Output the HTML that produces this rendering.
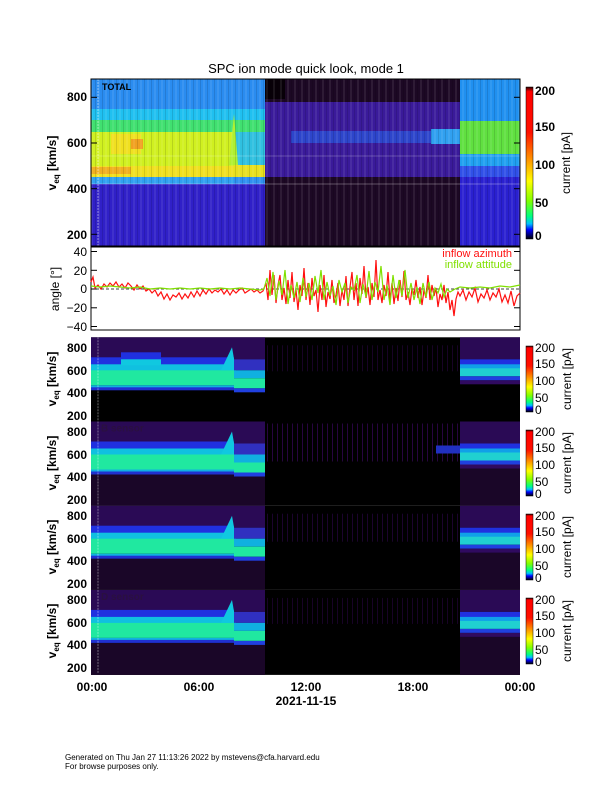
<!DOCTYPE html>
<html><head><meta charset="utf-8"><style>
html,body{margin:0;padding:0;background:#fff;}
svg{display:block;font-family:"Liberation Sans",sans-serif;}
</style></head><body>
<svg width="612" height="792" viewBox="0 0 612 792" xmlns="http://www.w3.org/2000/svg">
<defs>
<linearGradient id="cb" x1="0" y1="0" x2="0" y2="1">
<stop offset="0" stop-color="#200000"/><stop offset="0.03" stop-color="#ff0000"/>
<stop offset="0.3" stop-color="#ff1000"/><stop offset="0.45" stop-color="#ff8000"/>
<stop offset="0.62" stop-color="#ffff00"/><stop offset="0.75" stop-color="#80ff00"/>
<stop offset="0.85" stop-color="#00ff80"/><stop offset="0.9" stop-color="#00c0ff"/>
<stop offset="0.94" stop-color="#0000ff"/><stop offset="0.97" stop-color="#000080"/>
<stop offset="1" stop-color="#000"/></linearGradient>
<pattern id="st" width="7" height="10" patternUnits="userSpaceOnUse">
<rect x="0" y="0" width="2" height="10" fill="#fff" opacity="0.08"/>
<rect x="4" y="0" width="1" height="10" fill="#000" opacity="0.12"/></pattern>
<pattern id="st2" width="5" height="10" patternUnits="userSpaceOnUse">
<rect x="1" y="0" width="1" height="10" fill="#500a80" opacity="0.5"/>
<rect x="3" y="0" width="1" height="10" fill="#000" opacity="0.5"/></pattern>
</defs>

<text x="306" y="73" font-size="13" text-anchor="middle">SPC ion mode quick look, mode 1</text>

<!-- TOP PANEL -->
<g transform="translate(91,79)">
<rect x="0" y="0" width="429" height="167" fill="#2a20d0"/>
<rect x="0" y="0" width="174" height="30" fill="#2a8cf0"/>
<rect x="0" y="30" width="174" height="11" fill="#20c0f0"/>
<rect x="0" y="41" width="174" height="12" fill="#40e070"/>
<rect x="0" y="53" width="143" height="34" fill="#d0f020"/>
<rect x="20" y="55" width="30" height="20" fill="#f0e020"/>
<rect x="40" y="60" width="12" height="10" fill="#f0a020"/>
<rect x="0" y="87" width="143" height="11" fill="#f0e020"/>
<rect x="0" y="88" width="40" height="7" fill="#f0b020"/>
<rect x="0" y="98" width="143" height="7" fill="#30a0f0"/>
<rect x="143" y="53" width="31" height="33" fill="#30c0e0"/>
<rect x="143" y="86" width="31" height="12" fill="#e8e020"/>
<rect x="143" y="98" width="31" height="10" fill="#3090f0"/>
<rect x="0" y="105" width="174" height="62" fill="#3020c8"/>
<polygon points="138,86 143,35 147,86" fill="#b0f030"/>
<rect x="174" y="0" width="195" height="167" fill="#1c0824"/>
<rect x="174" y="23" width="195" height="75" fill="#3a1a9a"/>
<rect x="200" y="52" width="150" height="12" fill="#2858e0" opacity="0.7"/>
<rect x="340" y="50" width="29" height="15" fill="#30a0f0"/>
<rect x="174" y="0" width="20" height="20" fill="#080008"/>
<rect x="369" y="0" width="60" height="42" fill="#2090f0"/>
<rect x="369" y="42" width="60" height="33" fill="#60e040"/>
<rect x="369" y="75" width="60" height="12" fill="#20a0f0"/>
<rect x="369" y="87" width="60" height="11" fill="#3050e8"/>
<rect x="369" y="98" width="60" height="69" fill="#2a20d0"/>
<rect x="0" y="0" width="429" height="167" fill="url(#st)"/>
<line x1="0" y1="105" x2="429" y2="105" stroke="#fff" stroke-opacity="0.4" stroke-width="0.7"/>
<line x1="0" y1="77" x2="429" y2="77" stroke="#fff" stroke-opacity="0.3" stroke-width="0.7"/>
<line x1="7" y1="0" x2="7" y2="167" stroke="#fff" stroke-opacity="0.6" stroke-width="0.8" stroke-dasharray="2,1"/>
<text x="11" y="11" font-size="9" font-weight="bold">TOTAL</text>
<g stroke="#000" stroke-width="1">
<line x1="0" y1="18.3" x2="6" y2="18.3"/><line x1="0" y1="64" x2="6" y2="64"/><line x1="0" y1="109.7" x2="6" y2="109.7"/><line x1="0" y1="155.3" x2="6" y2="155.3"/>
<line x1="429" y1="18.3" x2="423" y2="18.3"/><line x1="429" y1="64" x2="423" y2="64"/><line x1="429" y1="109.7" x2="423" y2="109.7"/><line x1="429" y1="155.3" x2="423" y2="155.3"/>
</g>
<rect x="0" y="0" width="429" height="167" fill="none" stroke="#000" stroke-width="1"/>
</g>
<g font-size="12" text-anchor="end" font-weight="bold">
<text x="87" y="101">800</text><text x="87" y="147">600</text><text x="87" y="193">400</text><text x="87" y="239">200</text>
</g>
<text transform="translate(56,163) rotate(-90)" font-size="12" text-anchor="middle" font-weight="bold">v<tspan font-size="8" dy="3">eq</tspan><tspan dy="-3"> [km/s]</tspan></text>
<rect x="526" y="87" width="7" height="152" fill="url(#cb)" stroke="#000" stroke-width="0.5"/>
<g font-size="12" font-weight="bold">
<text x="535" y="95">200</text><text x="535" y="131">150</text><text x="535" y="169">100</text><text x="535" y="207">50</text><text x="535" y="240">0</text>
</g>
<text transform="translate(570,163) rotate(-90)" font-size="12" text-anchor="middle">current [pA]</text>

<!-- ANGLE PANEL -->
<g>
<rect x="91" y="247" width="429" height="83" fill="#fff" stroke="#000" stroke-width="1"/>
<g stroke="#000" stroke-width="1">
<line x1="91" y1="251.5" x2="97" y2="251.5"/><line x1="91" y1="270.3" x2="97" y2="270.3"/><line x1="91" y1="289" x2="97" y2="289"/><line x1="91" y1="307.8" x2="97" y2="307.8"/><line x1="91" y1="326.5" x2="97" y2="326.5"/>
<line x1="520" y1="251.5" x2="514" y2="251.5"/><line x1="520" y1="270.3" x2="514" y2="270.3"/><line x1="520" y1="307.8" x2="514" y2="307.8"/><line x1="520" y1="326.5" x2="514" y2="326.5"/>
</g>
<line x1="91" y1="289" x2="520" y2="289" stroke="#000" stroke-width="0.8" stroke-dasharray="3,2"/>
<polyline fill="none" stroke="#ff1010" stroke-width="1.2" points="91,282 93,277 95,288 98,285 101,289 104,284 107,287 110,283 113,286 116,282 119,287 122,284 125,288 128,283 131,286 134,290 137,285 140,289 143,286 146,291 149,289 152,293 155,290 158,296 161,292 164,299 167,294 170,300 173,295 176,297 179,293 182,299 185,294 188,298 191,292 194,297 197,291 200,296 203,290 206,294 209,289 212,293 215,290 218,292 221,289 224,294 227,290 230,295 233,290 236,293 239,290 242,288 245,293 248,291 251,289 254,292 257,290 260,293 263,291 266,283 268,300 270,270 272,295 274,275 276,303 278,285 280,275 282,300 284,288 286,304 288,280 290,298 292,272 294,302 296,290 298,310 300,285 302,296 304,268 306,300 308,283 310,305 312,278 314,296 316,290 318,312 320,285 322,300 324,275 326,307 328,292 330,299 332,280 334,303 336,295 338,283 340,306 342,290 344,300 346,276 348,306 350,287 352,272 354,300 356,283 358,306 360,278 362,294 364,266 366,298 368,287 370,305 372,283 374,297 376,260 378,300 380,290 382,303 384,285 386,296 388,272 390,300 392,283 394,304 396,288 398,301 400,280 402,297 404,271 406,300 408,292 410,305 412,288 414,295 416,280 418,298 420,287 422,305 424,290 426,298 428,275 430,300 432,285 434,296 436,288 438,307 440,294 442,300 444,285 446,303 448,292 450,310 452,300 454,316 456,299 458,292 460,296 463,290 466,300 469,292 472,297 475,288 478,302 481,294 484,298 487,290 490,300 493,293 496,297 499,289 502,302 505,295 508,303 511,291 514,306 517,296 520,293"/>
<polyline fill="none" stroke="#80e000" stroke-width="1.2" points="91,286 100,287 110,286 120,287 130,288 140,287 150,289 160,288 170,289 180,288 190,289 200,288 210,289 220,288 230,289 240,288 250,289 260,290 264,289 267,278 270,296 273,272 276,300 279,281 282,295 285,270 288,304 291,285 294,298 297,282 300,302 303,278 306,297 309,283 312,300 315,276 318,293 321,270 324,300 327,282 330,296 333,286 336,305 339,280 342,292 345,283 348,303 351,287 354,290 357,275 360,303 363,284 366,297 369,271 372,300 375,282 378,292 381,266 384,300 387,285 390,305 393,275 396,298 399,280 402,296 405,270 408,298 411,283 414,300 417,287 420,304 423,283 426,297 429,282 432,300 435,288 438,293 441,284 444,297 447,289 450,292 455,289 460,287 470,288 480,287 490,288 500,286 510,287 520,285"/>
<text x="512" y="257" font-size="11" fill="#ff1010" text-anchor="end">inflow azimuth</text>
<text x="512" y="268" font-size="11" fill="#80e000" text-anchor="end">inflow attitude</text>
</g>
<g font-size="12" text-anchor="end">
<text x="87" y="256">40</text><text x="87" y="275">20</text><text x="87" y="293">0</text><text x="87" y="312">−20</text><text x="87" y="331">−40</text>
</g>
<text transform="translate(59,289) rotate(-90)" font-size="12" text-anchor="middle">angle [°]</text>

<!-- SENSOR PANELS -->
<g transform="translate(91,337.3)">
<rect x="0" y="0" width="429" height="84.2" fill="#000"/>
<rect x="0" y="0" width="174" height="22" fill="#2a0a55"/>
<rect x="0" y="20" width="143" height="8" fill="#2030e0"/>
<rect x="30" y="15" width="40" height="8" fill="#2030e0"/>
<rect x="0" y="27" width="143" height="7" fill="#10c0e0"/>
<rect x="30" y="22" width="40" height="6" fill="#10c8e0"/>
<rect x="0" y="33" width="143" height="15" fill="#20e8a0"/>
<rect x="0" y="48" width="143" height="3" fill="#10b0e0"/>
<rect x="0" y="50" width="143" height="3" fill="#2030d0"/>
<polygon points="130,33 141,10 145,33" fill="#10c8e0"/>
<rect x="143" y="22" width="31" height="11" fill="#3030c0"/>
<rect x="143" y="33" width="31" height="8" fill="#10b0e0"/>
<rect x="143" y="41" width="31" height="10" fill="#20e8a0"/>
<rect x="143" y="51" width="31" height="4" fill="#2040e0"/>
<rect x="174" y="8" width="195" height="26" fill="url(#st2)" opacity="0.6"/>
<rect x="369" y="0" width="60" height="22" fill="#2a0a55"/>
<rect x="369" y="22" width="60" height="8" fill="#2030e0"/>
<rect x="369" y="27" width="60" height="6" fill="#10a0e8"/>
<rect x="369" y="31" width="60" height="8" fill="#20d0d0"/>
<rect x="369" y="39" width="60" height="4" fill="#2040e0"/>
<rect x="369" y="43" width="60" height="4" fill="#300a60"/>
<line x1="7" y1="0" x2="7" y2="84" stroke="#fff" stroke-opacity="0.5" stroke-width="0.8" stroke-dasharray="2,1"/>
</g>
<g transform="translate(91,421.5)">
<rect x="0" y="0" width="429" height="84.2" fill="#000"/>
<rect x="0" y="53" width="174" height="31" fill="#1a0628"/>
<rect x="369" y="47" width="60" height="37" fill="#1a0628"/>
<rect x="0" y="0" width="174" height="22" fill="#2a0a55"/>
<rect x="0" y="20" width="143" height="8" fill="#2030e0"/>
<rect x="0" y="27" width="143" height="7" fill="#10c0e0"/>
<rect x="0" y="33" width="143" height="15" fill="#20e8a0"/>
<rect x="0" y="48" width="143" height="3" fill="#10b0e0"/>
<rect x="0" y="50" width="143" height="3" fill="#2030d0"/>
<polygon points="130,33 141,10 145,33" fill="#10c8e0"/>
<rect x="143" y="22" width="31" height="11" fill="#3030c0"/>
<rect x="143" y="33" width="31" height="8" fill="#10b0e0"/>
<rect x="143" y="41" width="31" height="10" fill="#20e8a0"/>
<rect x="143" y="51" width="31" height="4" fill="#2040e0"/>
<rect x="174" y="2" width="195" height="38" fill="url(#st2)"/>
<rect x="345" y="24" width="24" height="8" fill="#2030c0"/>
<rect x="369" y="0" width="60" height="22" fill="#2a0a55"/>
<rect x="369" y="22" width="60" height="8" fill="#2030e0"/>
<rect x="369" y="27" width="60" height="6" fill="#10a0e8"/>
<rect x="369" y="31" width="60" height="8" fill="#20d0d0"/>
<rect x="369" y="39" width="60" height="4" fill="#2040e0"/>
<rect x="369" y="43" width="60" height="4" fill="#300a60"/>
<line x1="7" y1="0" x2="7" y2="84" stroke="#fff" stroke-opacity="0.5" stroke-width="0.8" stroke-dasharray="2,1"/>
<text x="10" y="10" font-size="10" fill="#2a1040" font-weight="bold">B sensor</text>
</g>
<g transform="translate(91,505.7)">
<rect x="0" y="0" width="429" height="84.2" fill="#000"/>
<rect x="0" y="53" width="174" height="31" fill="#1a0628"/>
<rect x="369" y="47" width="60" height="37" fill="#1a0628"/>
<rect x="0" y="0" width="174" height="22" fill="#2a0a55"/>
<rect x="0" y="20" width="143" height="8" fill="#2030e0"/>
<rect x="0" y="27" width="143" height="7" fill="#10c0e0"/>
<rect x="0" y="33" width="143" height="15" fill="#20e8a0"/>
<rect x="0" y="48" width="143" height="3" fill="#10b0e0"/>
<rect x="0" y="50" width="143" height="3" fill="#2030d0"/>
<polygon points="130,33 141,10 145,33" fill="#10c8e0"/>
<rect x="143" y="22" width="31" height="11" fill="#3030c0"/>
<rect x="143" y="33" width="31" height="8" fill="#10b0e0"/>
<rect x="143" y="41" width="31" height="10" fill="#20e8a0"/>
<rect x="143" y="51" width="31" height="4" fill="#2040e0"/>
<rect x="174" y="8" width="195" height="28" fill="url(#st2)" opacity="0.7"/>
<rect x="369" y="0" width="60" height="22" fill="#2a0a55"/>
<rect x="369" y="22" width="60" height="8" fill="#2030e0"/>
<rect x="369" y="27" width="60" height="6" fill="#10a0e8"/>
<rect x="369" y="31" width="60" height="8" fill="#20d0d0"/>
<rect x="369" y="39" width="60" height="4" fill="#2040e0"/>
<rect x="369" y="43" width="60" height="4" fill="#300a60"/>
<line x1="7" y1="0" x2="7" y2="84" stroke="#fff" stroke-opacity="0.5" stroke-width="0.8" stroke-dasharray="2,1"/>
</g>
<g transform="translate(91,589.9)">
<rect x="0" y="0" width="429" height="85" fill="#000"/>
<rect x="0" y="53" width="174" height="32" fill="#1a0628"/>
<rect x="369" y="47" width="60" height="38" fill="#1a0628"/>
<rect x="0" y="0" width="174" height="22" fill="#2a0a55"/>
<rect x="0" y="20" width="143" height="8" fill="#2030e0"/>
<rect x="0" y="27" width="143" height="7" fill="#10c0e0"/>
<rect x="0" y="33" width="143" height="15" fill="#20e8a0"/>
<rect x="0" y="48" width="143" height="3" fill="#10b0e0"/>
<rect x="0" y="50" width="143" height="3" fill="#2030d0"/>
<polygon points="130,33 141,10 145,33" fill="#10c8e0"/>
<rect x="143" y="22" width="31" height="11" fill="#3030c0"/>
<rect x="143" y="33" width="31" height="8" fill="#10b0e0"/>
<rect x="143" y="41" width="31" height="10" fill="#20e8a0"/>
<rect x="143" y="51" width="31" height="4" fill="#2040e0"/>
<rect x="174" y="8" width="195" height="26" fill="url(#st2)" opacity="0.6"/>
<rect x="369" y="0" width="60" height="22" fill="#2a0a55"/>
<rect x="369" y="22" width="60" height="8" fill="#2030e0"/>
<rect x="369" y="27" width="60" height="6" fill="#10a0e8"/>
<rect x="369" y="31" width="60" height="8" fill="#20d0d0"/>
<rect x="369" y="39" width="60" height="4" fill="#2040e0"/>
<rect x="369" y="43" width="60" height="4" fill="#300a60"/>
<line x1="7" y1="0" x2="7" y2="84" stroke="#fff" stroke-opacity="0.5" stroke-width="0.8" stroke-dasharray="2,1"/>
<text x="10" y="10" font-size="10" fill="#2a1040" font-weight="bold">D sensor</text>
</g>

<g font-size="12" text-anchor="end" font-weight="bold">
<text x="87" y="352">800</text><text x="87" y="375">600</text><text x="87" y="397">400</text><text x="87" y="420">200</text>
<text x="87" y="436">800</text><text x="87" y="459">600</text><text x="87" y="481">400</text><text x="87" y="504">200</text>
<text x="87" y="520">800</text><text x="87" y="543">600</text><text x="87" y="565">400</text><text x="87" y="588">200</text>
<text x="87" y="604">800</text><text x="87" y="627">600</text><text x="87" y="649">400</text><text x="87" y="672">200</text>
</g>
<g font-size="12" text-anchor="middle" font-weight="bold">
<text transform="translate(56,379) rotate(-90)">v<tspan font-size="8" dy="3">eq</tspan><tspan dy="-3"> [km/s]</tspan></text>
<text transform="translate(56,463) rotate(-90)">v<tspan font-size="8" dy="3">eq</tspan><tspan dy="-3"> [km/s]</tspan></text>
<text transform="translate(56,547) rotate(-90)">v<tspan font-size="8" dy="3">eq</tspan><tspan dy="-3"> [km/s]</tspan></text>
<text transform="translate(56,631) rotate(-90)">v<tspan font-size="8" dy="3">eq</tspan><tspan dy="-3"> [km/s]</tspan></text>
</g>
<g>
<rect x="526" y="346" width="7" height="66" fill="url(#cb)" stroke="#000" stroke-width="0.5"/>
<rect x="526" y="430" width="7" height="66" fill="url(#cb)" stroke="#000" stroke-width="0.5"/>
<rect x="526" y="514" width="7" height="66" fill="url(#cb)" stroke="#000" stroke-width="0.5"/>
<rect x="526" y="598" width="7" height="66" fill="url(#cb)" stroke="#000" stroke-width="0.5"/>
</g>
<g font-size="12">
<text x="535" y="352">200</text><text x="535" y="368">150</text><text x="535" y="385">100</text><text x="535" y="402">50</text><text x="535" y="414">0</text>
<text x="535" y="436">200</text><text x="535" y="452">150</text><text x="535" y="469">100</text><text x="535" y="486">50</text><text x="535" y="498">0</text>
<text x="535" y="520">200</text><text x="535" y="536">150</text><text x="535" y="553">100</text><text x="535" y="570">50</text><text x="535" y="582">0</text>
<text x="535" y="604">200</text><text x="535" y="620">150</text><text x="535" y="637">100</text><text x="535" y="654">50</text><text x="535" y="666">0</text>
<text transform="translate(571,379) rotate(-90)" text-anchor="middle">current [pA]</text>
<text transform="translate(571,463) rotate(-90)" text-anchor="middle">current [pA]</text>
<text transform="translate(571,547) rotate(-90)" text-anchor="middle">current [pA]</text>
<text transform="translate(571,631) rotate(-90)" text-anchor="middle">current [pA]</text>
</g>

<g font-size="12" text-anchor="middle" font-weight="bold">
<text x="92" y="691">00:00</text><text x="199" y="691">06:00</text><text x="306" y="691">12:00</text><text x="413" y="691">18:00</text><text x="520" y="691">00:00</text>
<text x="306" y="705">2021-11-15</text>
</g>

<g font-size="8">
<text x="65" y="760">Generated on Thu Jan 27 11:13:26 2022 by mstevens@cfa.harvard.edu</text>
<text x="65" y="769">For browse purposes only.</text>
</g>
</svg>
</body></html>
